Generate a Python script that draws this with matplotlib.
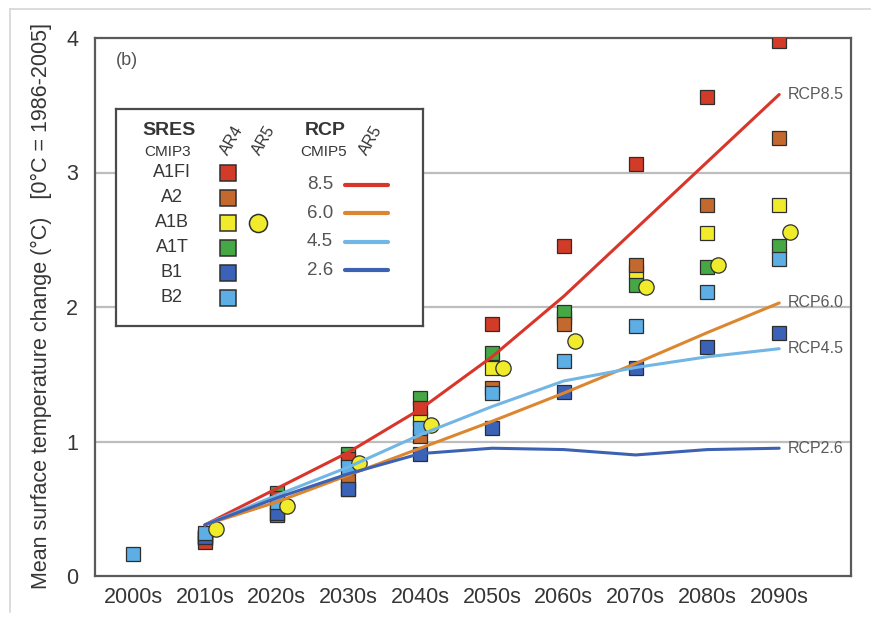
import numpy as np
import matplotlib
matplotlib.use("Agg")
import matplotlib.pyplot as plt
from matplotlib.lines import Line2D

plt.rcParams['font.family'] = ['Liberation Sans', 'DejaVu Sans']

# ---- data -------------------------------------------------------------
decades = ['2000s', '2010s', '2020s', '2030s', '2040s',
           '2050s', '2060s', '2070s', '2080s', '2090s']
nan = np.nan

# SRES scenarios (CMIP3, AR4), mean surface temperature change in °C
sres_a1fi = [nan, 0.25, 0.58, 0.87, 1.25, 1.87, 2.45, 3.06, 3.56, 3.98]
sres_a2   = [nan, 0.28, 0.45, 0.71, 1.04, 1.40, 1.87, 2.31, 2.76, 3.26]
sres_a1b  = [nan, 0.28, 0.46, 0.65, 1.17, 1.55, 1.92, 2.26, 2.55, 2.76]
sres_a1t  = [nan, 0.30, 0.62, 0.91, 1.32, 1.66, 1.96, 2.16, 2.30, 2.45]
sres_b1   = [nan, 0.29, 0.47, 0.65, 0.91, 1.10, 1.37, 1.55, 1.70, 1.81]
sres_b2   = [0.16, 0.32, 0.55, 0.81, 1.10, 1.36, 1.60, 1.86, 2.11, 2.36]
# SRES A1B as used in AR5
ar5_a1b   = [nan, 0.35, 0.52, 0.84, 1.12, 1.55, 1.75, 2.15, 2.31, 2.56]

# RCP scenarios (CMIP5, AR5)
rcp85 = [nan, 0.38, 0.65, 0.92, 1.24, 1.63, 2.08, 2.58, 3.08, 3.58]
rcp60 = [nan, 0.38, 0.55, 0.75, 0.95, 1.15, 1.36, 1.58, 1.81, 2.03]
rcp45 = [nan, 0.38, 0.60, 0.81, 1.05, 1.26, 1.45, 1.55, 1.63, 1.69]
rcp26 = [nan, 0.38, 0.58, 0.76, 0.91, 0.95, 0.94, 0.90, 0.94, 0.95]

sres_names = ['A1FI', 'A2', 'A1B', 'A1T', 'B1', 'B2']
rcp_names = ['8.5', '6.0', '4.5', '2.6']
y_ticks = [0, 1, 2, 3, 4]

# ---- styles -----------------------------------------------------------
sres_colors = {'A1FI': '#d23b27', 'A2': '#c4692d', 'A1B': '#f0ec2c',
               'A1T': '#45a845', 'B1': '#3a62b8', 'B2': '#5eaee6'}
rcp_colors = {'8.5': '#d9362b', '6.0': '#dc862f',
              '4.5': '#72b6e6', '2.6': '#3d62b3'}
edge = '#2e2e2e'
text_col = '#363636'
ar5_offset = 0.15

fig = plt.figure(figsize=(8.78, 6.25), dpi=100)
fig.patch.set_facecolor('white')

# light frame around the figure
fig.add_artist(Line2D([10 / 878, 10 / 878], [1 - 612 / 625, 1 - 9 / 625],
                      transform=fig.transFigure, color='#d6d6d6', lw=1.2))
fig.add_artist(Line2D([10 / 878, 870 / 878], [1 - 9 / 625, 1 - 9 / 625],
                      transform=fig.transFigure, color='#d6d6d6', lw=1.2))

ax = fig.add_axes([95 / 878, 1 - 576 / 625, (851 - 95) / 878, (576 - 38) / 625])
x = np.arange(len(decades))

# gridlines
for yv in y_ticks[1:-1]:
    ax.axhline(yv, color='#bdbdbd', lw=1.6, zorder=1)

# SRES squares (draw order controls overlap)
sres_series = {'A1FI': sres_a1fi, 'A2': sres_a2, 'A1B': sres_a1b,
               'A1T': sres_a1t, 'B1': sres_b1, 'B2': sres_b2}
for name in ['A1B', 'A1T', 'A2', 'A1FI', 'B1', 'B2']:
    ax.plot(x, sres_series[name], linestyle='none', marker='s', ms=9.5,
            mfc=sres_colors[name], mec=edge, mew=0.9, zorder=3)

ax.plot(x + ar5_offset, ar5_a1b, linestyle='none', marker='o', ms=11,
        mfc=sres_colors['A1B'], mec=edge, mew=0.9, zorder=3)

# RCP lines
rcp_series = {'8.5': rcp85, '6.0': rcp60, '4.5': rcp45, '2.6': rcp26}
for name in rcp_names:
    vals = rcp_series[name]
    ax.plot(x, vals, color=rcp_colors[name], lw=2.2, zorder=4,
            solid_capstyle='round')
    ax.annotate('RCP' + name, xy=(x[-1], vals[-1]), xytext=(6, 0),
                textcoords='offset points', ha='left', va='center',
                fontsize=11.5, color='#5a5a5a', zorder=5)

ax.set_xlim(-0.53, 10.0)
ax.set_ylim(0, 4)
ax.set_xticks(x)
ax.set_xticklabels(decades)
ax.set_yticks(y_ticks)
ax.tick_params(axis='both', length=0, labelsize=15.5, labelcolor=text_col)
ax.tick_params(axis='x', pad=8)
ax.tick_params(axis='y', pad=12)
for sp in ax.spines.values():
    sp.set_color('#5a5a5a')
    sp.set_linewidth(1.6)

ax.text(0.042, 0.958, '(b)', transform=ax.transAxes, fontsize=13,
        color='#555555', ha='center', va='center')

fig.text(41 / 878, 1 - 306 / 625,
         'Mean surface temperature change (°C)   [0°C = 1986-2005]',
         rotation=90, ha='center', va='center', fontsize=15.5, color=text_col)

# ---- key box ----------------------------------------------------------
bx0, by0, bx1, by1 = 116, 109, 423, 326
lg = fig.add_axes([bx0 / 878, 1 - by1 / 625, (bx1 - bx0) / 878, (by1 - by0) / 625])
lg.set_xlim(0, bx1 - bx0)
lg.set_ylim(by1 - by0, 0)
lg.set_xticks([])
lg.set_yticks([])
lg.set_facecolor('white')
for sp in lg.spines.values():
    sp.set_color('#4a4a4a')
    sp.set_linewidth(1.6)

lg.text(53, 22, 'SRES', fontsize=14, fontweight='bold', color=text_col,
        ha='center', va='center')
lg.text(52, 43, 'CMIP3', fontsize=11, color=text_col, ha='center', va='center')
lg.text(209, 22, 'RCP', fontsize=14, fontweight='bold', color=text_col,
        ha='center', va='center')
lg.text(208, 43, 'CMIP5', fontsize=11, color=text_col, ha='center', va='center')
for xx, lab in [(116, 'AR4'), (148, 'AR5'), (255, 'AR5')]:
    lg.text(xx, 31, lab, fontsize=11.5, color=text_col, rotation=60,
            ha='center', va='center', rotation_mode='anchor')

row0, drow = 64, 25
for i, name in enumerate(sres_names):
    yy = row0 + i * drow
    lg.text(56, yy, name, fontsize=13, color=text_col, ha='center', va='center')
    lg.plot([112], [yy], marker='s', ms=12, mfc=sres_colors[name], mec=edge,
            mew=1.1, linestyle='none')
    if name == 'A1B':
        lg.plot([142], [yy], marker='o', ms=13, mfc=sres_colors[name], mec=edge,
                mew=1.1, linestyle='none')

rrow0, drrow = 76, 28.5
for i, name in enumerate(rcp_names):
    yy = rrow0 + i * drrow
    lg.text(204, yy, name, fontsize=13.5, color='#555555', ha='center', va='center')
    lg.plot([229, 272], [yy, yy], color=rcp_colors[name], lw=3,
            solid_capstyle='round')

fig.savefig('out.png', dpi=100, facecolor='white')
